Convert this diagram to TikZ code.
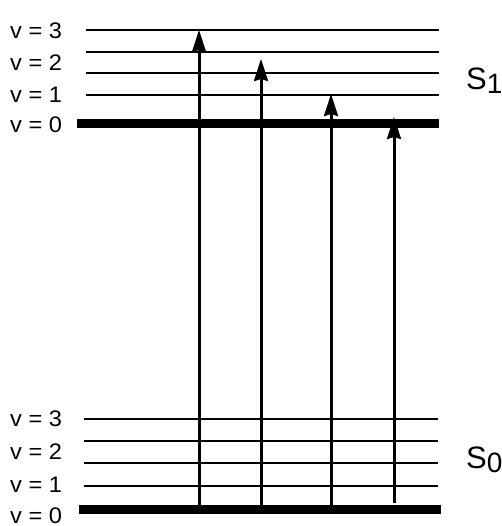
\documentclass[tikz,border=0pt]{standalone}
\usepackage{fontspec}
\setmainfont{Liberation Sans}
\usetikzlibrary{arrows.meta}
\begin{document}
\begin{tikzpicture}[x=1pt,y=-1pt,
  level/.style={line width=2pt},
  ground/.style={line width=9pt},
  trans/.style={line width=3pt,-{Stealth[length=22pt,width=14pt,inset=2pt]}},
  vlab/.style={anchor=west,inner sep=0pt,font=\fontsize{22.5}{24}\selectfont},
  slab/.style={anchor=west,inner sep=0pt,font=\fontsize{31}{32}\selectfont}]
\useasboundingbox (0,0) rectangle (501,526);
% S1 levels
\draw[level] (86,30) -- (439,30);
\draw[level] (86,52) -- (439,52);
\draw[level] (86,73) -- (439,73);
\draw[level] (86,95) -- (439,95);
\draw[ground] (77,124) -- (439,124);
% S0 levels
\draw[level] (84,419) -- (438,419);
\draw[level] (84,441) -- (438,441);
\draw[level] (84,463) -- (438,463);
\draw[level] (84,486) -- (438,486);
\draw[ground] (79,509) -- (441,509);
% labels
\node[vlab] (t3) at (10,31) {\scalebox{1.05}[1]{v = 3}};
\node[vlab] (t2) at (10,63) {\scalebox{1.05}[1]{v = 2}};
\node[vlab] (t1) at (10,95) {\scalebox{1.05}[1]{v = 1}};
\node[vlab] (t0) at (10,125) {\scalebox{1.05}[1]{v = 0}};
\node[vlab] (b3) at (10,419) {\scalebox{1.05}[1]{v = 3}};
\node[vlab] (b2) at (10,452) {\scalebox{1.05}[1]{v = 2}};
\node[vlab] (b1) at (10,485) {\scalebox{1.05}[1]{v = 1}};
\node[vlab] (b0) at (10,516) {\scalebox{1.05}[1]{v = 0}};
\node[slab] (s1) at (466,81) {S\raisebox{-4pt}{\fontsize{28}{29}\selectfont 1}};
\node[slab] (s0) at (466,460) {S\raisebox{-4pt}{\fontsize{28}{29}\selectfont 0}};
% transitions
\coordinate (a1) at (199,509); \coordinate (e1) at (199,30);
\coordinate (a2) at (261,509); \coordinate (e2) at (261,59);
\coordinate (a3) at (331,509); \coordinate (e3) at (331,94);
\coordinate (a4) at (394,503); \coordinate (e4) at (394,117);
\draw[trans] (a1) -- (e1);
\draw[trans] (a2) -- (e2);
\draw[trans] (a3) -- (e3);
\draw[trans] (a4) -- (e4);
\end{tikzpicture}
\end{document}
